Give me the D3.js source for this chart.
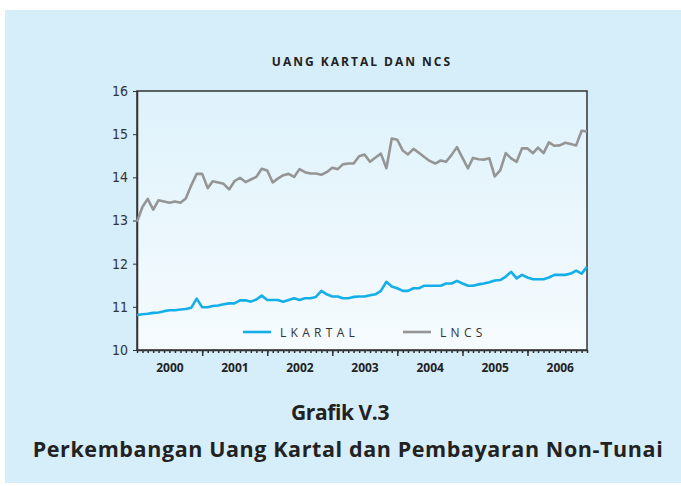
<!DOCTYPE html>
<html>
<head>
<meta charset="utf-8">
<script src="https://cdn.jsdelivr.net/npm/d3@7"></script>
<style>
	body { margin: 0; background: #fff; }
	svg { display: block; }
	.y-axis text { font-family: "Liberation Sans Narrow", "DejaVu Sans Condensed", sans-serif; font-size: 14px; fill: #333; }
	.x-axis text { font-family: "Open Sans", sans-serif; font-weight: bold; font-size: 12px; fill: #222; }
	.domain, .tick line { stroke: #333; }
</style>
</head>
<body>
<div id="viz"></div>
<script>
// monthly, Jan 2000 - Dec 2006
const years = [2000, 2001, 2002, 2003, 2004, 2005, 2006];
const yTicks = [10, 11, 12, 13, 14, 15, 16];

const lkartal = [
	10.81, 10.83, 10.84, 10.86, 10.87, 10.90, 10.92, 10.92, 10.94, 10.95, 10.98, 11.19,
	10.99, 10.99, 11.02, 11.03, 11.06, 11.08, 11.08, 11.15, 11.15, 11.12, 11.17, 11.26,
	11.16, 11.16, 11.16, 11.12, 11.16, 11.20, 11.16, 11.20, 11.20, 11.23, 11.37, 11.29,
	11.24, 11.24, 11.20, 11.20, 11.23, 11.24, 11.24, 11.27, 11.29, 11.37, 11.58, 11.47,
	11.43, 11.37, 11.37, 11.43, 11.43, 11.49, 11.49, 11.49, 11.49, 11.54, 11.54, 11.60,
	11.54, 11.49, 11.49, 11.52, 11.54, 11.57, 11.61, 11.62, 11.70, 11.81, 11.66, 11.74,
	11.68, 11.64, 11.64, 11.64, 11.68, 11.74, 11.74, 11.74, 11.77, 11.84, 11.77, 11.93
];

const lncs = [
	12.97, 13.32, 13.50, 13.25, 13.47, 13.44, 13.41, 13.44, 13.41, 13.51, 13.82, 14.08,
	14.08, 13.75, 13.91, 13.88, 13.85, 13.72, 13.91, 13.99, 13.89, 13.95, 14.01, 14.20,
	14.16, 13.88, 13.97, 14.05, 14.08, 14.01, 14.19, 14.12, 14.09, 14.09, 14.06, 14.12,
	14.22, 14.19, 14.30, 14.32, 14.32, 14.49, 14.53, 14.36, 14.46, 14.55, 14.21, 14.90,
	14.87, 14.62, 14.53, 14.66, 14.57, 14.47, 14.38, 14.32, 14.39, 14.36, 14.52, 14.70,
	14.45, 14.21, 14.45, 14.42, 14.41, 14.44, 14.02, 14.16, 14.56, 14.44, 14.36, 14.67,
	14.67, 14.56, 14.69, 14.56, 14.81, 14.73, 14.74, 14.80, 14.77, 14.74, 15.08, 15.06
];

const series = [
	{ name: 'LKARTAL', values: lkartal, color: '#14aee9' },
	{ name: 'LNCS', values: lncs, color: '#959595' }
];

const months = d3.utcMonth.range(new Date(Date.UTC(2000, 0, 1)), new Date(Date.UTC(2007, 0, 1)));

const W = 681, H = 486;
const plot = { left: 137, right: 587, top: 91, bottom: 350 };

const svg = d3.select('#viz').append('svg')
	.attr('width', W)
	.attr('height', H);

const defs = svg.append('defs');
const grad = defs.append('linearGradient')
	.attr('id', 'bg')
	.attr('x1', 0).attr('y1', 0).attr('x2', 0).attr('y2', 1);
grad.append('stop').attr('offset', '0%').attr('stop-color', '#def2fb');
grad.append('stop').attr('offset', '100%').attr('stop-color', '#f6fbfe');

// outer panel
svg.append('rect')
	.attr('x', 5).attr('y', 10)
	.attr('width', W - 5).attr('height', 473)
	.attr('fill', '#d6edfa');

let x = d3.scaleUtc()
	.domain([months[0], months[months.length - 1]])
	.range([plot.left, plot.right]);

let y = d3.scaleLinear()
	.domain([10, 16])
	.range([plot.bottom, plot.top]);

svg.append('rect')
	.attr('x', plot.left).attr('y', plot.top)
	.attr('width', plot.right - plot.left).attr('height', plot.bottom - plot.top)
	.attr('fill', 'url(#bg)')
	.attr('stroke', '#333')
	.attr('stroke-width', 1.5);

svg.append('text')
	.text('UANG KARTAL DAN NCS')
	.attr('x', (plot.left + plot.right) / 2)
	.attr('y', 66)
	.attr('text-anchor', 'middle')
	.style('font-family', '"Open Sans", sans-serif')
	.style('font-weight', 'bold')
	.style('font-size', '12px')
	.style('letter-spacing', '2px')
	.style('fill', '#222');

// y axis
svg.append('g')
	.attr('class', 'y-axis')
	.attr('transform', `translate(${plot.left},0)`)
	.call(d3.axisLeft(y).tickValues(yTicks).tickFormat(d3.format('d')).tickSize(4).tickPadding(5).tickSizeOuter(0))
	.call(g => g.select('.domain').attr('stroke-width', 1.5));

// x axis: minor month ticks
svg.append('g')
	.attr('transform', `translate(0,${plot.bottom})`)
	.call(d3.axisBottom(x).tickValues(months).tickSize(3).tickFormat('').tickSizeOuter(0))
	.call(g => g.select('.domain').attr('stroke-width', 1.5))
	.call(g => g.selectAll('.tick line').attr('stroke-width', 1.5));

// year ticks
let yearStarts = years.map(yr => new Date(Date.UTC(yr, 0, 1)));
svg.append('g')
	.attr('transform', `translate(0,${plot.bottom})`)
	.call(d3.axisBottom(x).tickValues(yearStarts.slice(1)).tickSize(6).tickFormat('').tickSizeOuter(0))
	.call(g => g.select('.domain').remove())
	.call(g => g.selectAll('.tick line').attr('stroke-width', 1.5));

// year labels centred on each year
svg.append('g')
	.attr('class', 'x-axis')
	.attr('transform', `translate(0,${plot.bottom})`)
	.call(d3.axisBottom(x)
		.tickValues(years.map(yr => new Date(Date.UTC(yr, 6, 1))))
		.tickSize(0).tickPadding(13)
		.tickFormat(d3.utcFormat('%Y')))
	.call(g => g.select('.domain').remove());

let line = d3.line()
	.x((d, i) => x(months[i]))
	.y(d => y(d));

for (let s of series) {
	svg.append('path')
		.datum(s.values)
		.attr('fill', 'none')
		.attr('stroke', s.color)
		.attr('stroke-width', 2.6)
		.attr('stroke-linejoin', 'round')
		.attr('d', line);
}

// legend
let legendX = [243, 403];
series.forEach((s, i) => {
	let g = svg.append('g').attr('transform', `translate(${legendX[i]},332)`);
	g.append('line')
		.attr('x1', 0).attr('x2', 28)
		.attr('stroke', s.color)
		.attr('stroke-width', 2.6);
	g.append('text')
		.text(s.name)
		.attr('x', 37)
		.attr('y', 5)
		.style('font-family', '"Open Sans", sans-serif')
		.style('font-size', '12px')
		.style('letter-spacing', '4.3px')
		.style('fill', '#333');
});

// caption
svg.append('text')
	.text('Grafik V.3')
	.attr('x', 340)
	.attr('y', 420)
	.attr('text-anchor', 'middle')
	.style('font-family', '"Open Sans", sans-serif')
	.style('font-weight', 'bold')
	.style('font-size', '21px')
	.style('letter-spacing', '-0.4px')
	.style('fill', '#222');

svg.append('text')
	.text('Perkembangan Uang Kartal dan Pembayaran Non-Tunai')
	.attr('x', 348)
	.attr('y', 457)
	.attr('text-anchor', 'middle')
	.style('font-family', '"Open Sans", sans-serif')
	.style('font-weight', 'bold')
	.style('font-size', '21.5px')
	.style('letter-spacing', '0.6px')
	.style('fill', '#222');
</script>
</body>
</html>
